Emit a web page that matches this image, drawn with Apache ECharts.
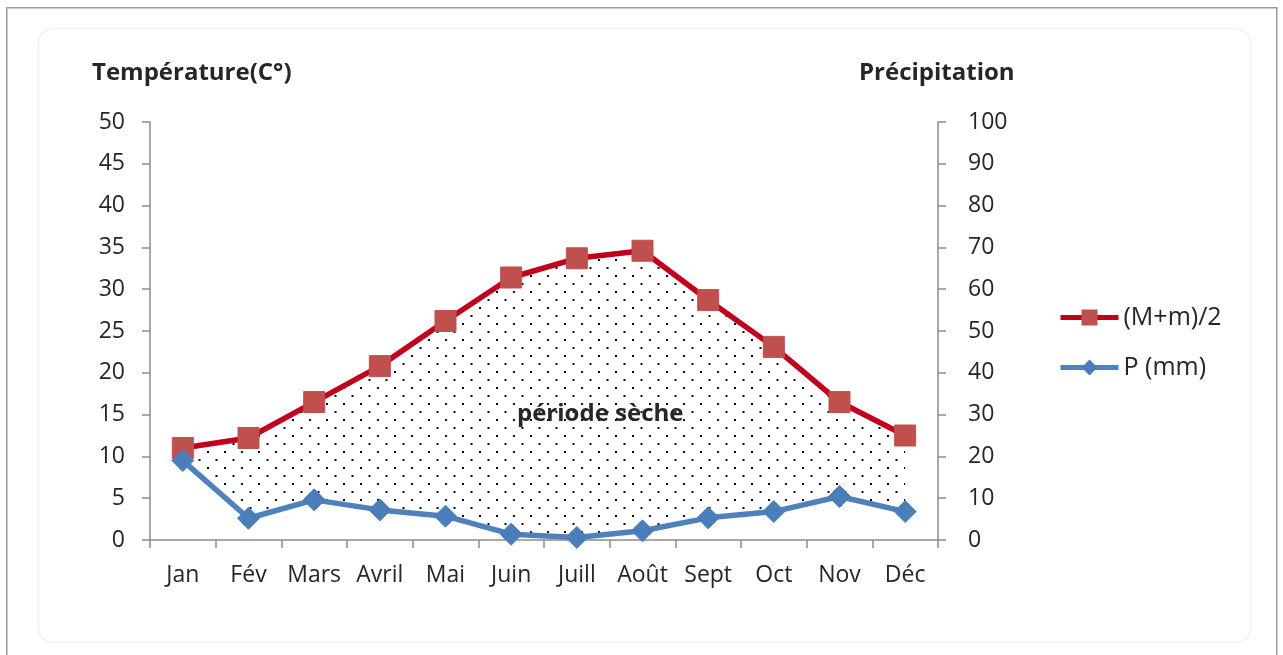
<!DOCTYPE html>
<html>
<head>
<meta charset="utf-8">
<script src="https://cdn.jsdelivr.net/npm/echarts@6/dist/echarts.min.js"></script>
<style>
  html, body { margin: 0; padding: 0; background: #ffffff; }
  #chart { width: 1283px; height: 655px; }
</style>
</head>
<body>
<div id="chart"></div>
<script>
// Monthly climate data
const months = ['Jan', 'Fév', 'Mars', 'Avril', 'Mai', 'Juin', 'Juill', 'Août', 'Sept', 'Oct', 'Nov', 'Déc'];
const temperature = [11.0, 12.2, 16.5, 20.8, 26.2, 31.4, 33.7, 34.6, 28.7, 23.1, 16.5, 12.5];   // (M+m)/2, °C
const precipitation = [19.0, 5.2, 9.6, 7.2, 5.7, 1.4, 0.6, 2.2, 5.3, 6.8, 10.4, 6.8];          // P, mm

// Axis ranges (precipitation axis is twice the temperature axis)
const TEMP_MAX = 50, TEMP_STEP = 5;
const PRECIP_MAX = 100, PRECIP_STEP = 10;

// Precipitation expressed in temperature-axis units, used for the dry-period band
const ratio = TEMP_MAX / PRECIP_MAX;
const bandBase = precipitation.map(p => p * ratio);
const bandHeight = temperature.map((t, i) => Math.max(0, t - bandBase[i]));

// Dotted fill pattern for the dry period
function dotPattern() {
  const c = document.createElement('canvas');
  c.width = 17; c.height = 16;
  const g = c.getContext('2d');
  g.fillStyle = '#111111';
  g.fillRect(3, 3, 2, 2);
  g.fillRect(11.5, 11, 2, 2);
  return c;
}

const font = '"Open Sans", "DejaVu Sans", sans-serif';
const textColor = '#262626';
const axisColor = '#8c8c8c';

const chart = echarts.init(document.getElementById('chart'), null, { renderer: 'canvas' });

chart.setOption({
  backgroundColor: '#ffffff',
  animation: false,
  grid: { left: 150, right: 345, top: 122, bottom: 115, containLabel: false },
  legend: {
    data: ['(M+m)/2', 'P (mm)'],
    orient: 'vertical',
    left: 1053,
    top: 300,
    itemWidth: 58,
    itemHeight: 20,
    itemGap: 25,
    lineStyle: { width: 5 },
    textStyle: { fontFamily: font, fontSize: 25, color: textColor }
  },
  xAxis: {
    type: 'category',
    data: months,
    boundaryGap: true,
    axisLine: { lineStyle: { color: axisColor, width: 1.5 } },
    axisTick: { show: true, length: 8, lineStyle: { color: axisColor, width: 1.5 } },
    axisLabel: { fontFamily: font, fontSize: 23, color: textColor, margin: 24, interval: 0 },
    splitLine: { show: false }
  },
  yAxis: [
    {
      type: 'value', min: 0, max: TEMP_MAX, interval: TEMP_STEP,
      axisLine: { show: true, lineStyle: { color: axisColor, width: 1.5 } },
      axisTick: { show: true, length: 8, lineStyle: { color: axisColor, width: 1.5 } },
      axisLabel: { fontFamily: font, fontSize: 23, color: textColor, margin: 25 },
      splitLine: { show: false }
    },
    {
      type: 'value', min: 0, max: PRECIP_MAX, interval: PRECIP_STEP, position: 'right',
      axisLine: { show: true, lineStyle: { color: axisColor, width: 1.5 } },
      axisTick: { show: true, length: 8, lineStyle: { color: axisColor, width: 1.5 } },
      axisLabel: { fontFamily: font, fontSize: 23, color: textColor, margin: 30 },
      splitLine: { show: false }
    }
  ],
  series: [
    {
      name: 'band-base', type: 'line', stack: 'band', yAxisIndex: 0,
      data: bandBase, symbol: 'none', lineStyle: { opacity: 0 }, silent: true, z: 1
    },
    {
      name: 'période sèche', type: 'line', stack: 'band', yAxisIndex: 0,
      data: bandHeight, symbol: 'none', lineStyle: { opacity: 0 }, silent: true, z: 1,
      areaStyle: { color: { image: dotPattern(), repeat: 'repeat' }, opacity: 1 }
    },
    {
      name: '(M+m)/2', type: 'line', yAxisIndex: 0, data: temperature,
      symbol: 'rect', symbolSize: 21,
      lineStyle: { color: '#C0001C', width: 5.5 },
      itemStyle: { color: '#C0504D', borderColor: '#C0504D' },
      z: 3
    },
    {
      name: 'P (mm)', type: 'line', yAxisIndex: 1, data: precipitation,
      symbol: 'diamond', symbolSize: 22,
      lineStyle: { color: '#4F81BD', width: 5.5 },
      itemStyle: { color: '#4A7EBB', borderColor: '#4A7EBB' },
      z: 4
    }
  ],
  graphic: [
    { type: 'rect', left: 6, top: 7, z: -10, silent: true,
      shape: { width: 1270, height: 700 },
      style: { fill: '#ffffff', stroke: '#9a9a9a', lineWidth: 1.5 } },
    { type: 'rect', left: 36, top: 26, z: -9, silent: true,
      shape: { width: 1212, height: 614, r: 14 },
      style: { fill: 'none', stroke: '#f3f3f3', lineWidth: 2 } },
    { type: 'text', left: 92, top: 61, z: 10,
      style: { text: 'Température(C°)', font: 'bold 24px ' + font, fill: textColor } },
    { type: 'text', left: 859, top: 61, z: 10,
      style: { text: 'Précipitation', font: 'bold 24px ' + font, fill: textColor } },
    { type: 'text', left: 517, top: 402, z: 10,
      style: { text: 'période sèche', font: 'bold 24px ' + font, fill: textColor } }
  ]
});
</script>
</body>
</html>
